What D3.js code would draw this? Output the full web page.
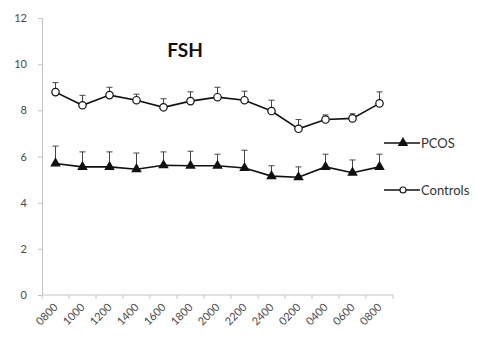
<!DOCTYPE html>
<html>
<head>
<meta charset="utf-8">
<script src="https://cdn.jsdelivr.net/npm/d3@7"></script>
<style>
  html, body { margin: 0; padding: 0; background: #fff; }
  svg { display: block; font-family: Lato, "Open Sans", sans-serif; }
</style>
</head>
<body>
<svg id="chart" width="477" height="341"></svg>
<script>
// Sampling times (24 h clock)
const times = ["0800","1000","1200","1400","1600","1800","2000","2200","2400","0200","0400","0600","0800"];
// Mean FSH per group
const pcos     = [5.70, 5.55, 5.55, 5.45, 5.62, 5.60, 5.60, 5.50, 5.15, 5.10, 5.55, 5.30, 5.55];
const controls = [8.79, 8.22, 8.66, 8.44, 8.13, 8.40, 8.57, 8.44, 7.97, 7.20, 7.60, 7.65, 8.30];
// Standard errors (drawn upward)
const pcosErr     = [0.75, 0.65, 0.65, 0.70, 0.58, 0.63, 0.50, 0.77, 0.45, 0.45, 0.55, 0.55, 0.55];
const controlsErr = [0.41, 0.43, 0.34, 0.26, 0.37, 0.40, 0.43, 0.39, 0.47, 0.40, 0.20, 0.20, 0.50];
const yTicks = [0, 2, 4, 6, 8, 10, 12];

const svg = d3.select("#chart");
const margin = { left: 42, right: 84, top: 18, bottom: 46 };
const W = 477, H = 341;

const x = d3.scaleBand()
  .domain(d3.range(times.length))
  .range([margin.left, W - margin.right]);
const y = d3.scaleLinear().domain([0, 12]).range([H - margin.bottom, margin.top]);

const axisColor = "#c4c4c4";
const textColor = "#4a4a4a";

// Y axis
const yAxis = svg.append("g")
  .attr("transform", `translate(${margin.left},0)`)
  .call(d3.axisLeft(y).tickValues(yTicks).tickSize(4).tickPadding(11));
yAxis.select(".domain").attr("stroke", axisColor);
yAxis.selectAll(".tick line").attr("stroke", axisColor);
yAxis.selectAll(".tick text")
  .attr("fill", textColor)
  .style("font-size", "11px")
  .style("font-family", "Lato, 'Open Sans', sans-serif");

// X axis with ticks between categories
const xg = svg.append("g").attr("transform", `translate(0,${y(0)})`);
xg.append("line")
  .attr("x1", margin.left).attr("x2", W - margin.right)
  .attr("stroke", axisColor);
const bounds = d3.range(times.length + 1).map(i => margin.left + i * x.step());
xg.selectAll("line.tk").data(bounds).join("line")
  .attr("class", "tk")
  .attr("x1", d => d).attr("x2", d => d)
  .attr("y1", 0).attr("y2", 4)
  .attr("stroke", axisColor);
xg.selectAll("text").data(times).join("text")
  .attr("transform", (d, i) => `translate(${x(i) + x.bandwidth() / 2 + 3},${13}) rotate(-45)`)
  .attr("text-anchor", "end")
  .attr("fill", textColor)
  .style("font-size", "11px")
  .text(d => d);

const cx = i => x(i) + x.bandwidth() / 2;

// Error bars
function errBars(vals, errs) {
  const g = svg.append("g").attr("stroke", "#444").attr("stroke-width", 1);
  vals.forEach((v, i) => {
    g.append("line").attr("x1", cx(i)).attr("x2", cx(i))
      .attr("y1", y(v)).attr("y2", y(v + errs[i]));
    g.append("line").attr("x1", cx(i) - 3).attr("x2", cx(i) + 3)
      .attr("y1", y(v + errs[i])).attr("y2", y(v + errs[i]));
  });
}
errBars(controls, controlsErr);
errBars(pcos, pcosErr);

const line = d3.line().x((d, i) => cx(i)).y(d => y(d));
svg.append("path").datum(controls).attr("d", line)
  .attr("fill", "none").attr("stroke", "#111").attr("stroke-width", 1.6);
svg.append("path").datum(pcos).attr("d", line)
  .attr("fill", "none").attr("stroke", "#111").attr("stroke-width", 1.6);

// Markers
const tri = d3.symbol().type(d3.symbolTriangle).size(48);
svg.append("g").selectAll("path").data(pcos).join("path")
  .attr("d", tri)
  .attr("transform", (d, i) => `translate(${cx(i)},${y(d)})`)
  .attr("fill", "#111");
svg.append("g").selectAll("circle").data(controls).join("circle")
  .attr("cx", (d, i) => cx(i)).attr("cy", d => y(d)).attr("r", 3.7)
  .attr("fill", "#fff").attr("stroke", "#111").attr("stroke-width", 1.2);

// Title
svg.append("text")
  .attr("x", 185).attr("y", 57)
  .attr("text-anchor", "middle")
  .attr("font-weight", "bold")
  .style("font-size", "19px")
  .attr("fill", "#111")
  .text("FSH");

// Legend
const legend = [
  { name: "PCOS", yv: 143, kind: "tri" },
  { name: "Controls", yv: 190, kind: "circle" }
];
legend.forEach(l => {
  svg.append("line").attr("x1", 384).attr("x2", 420)
    .attr("y1", l.yv).attr("y2", l.yv)
    .attr("stroke", "#111").attr("stroke-width", 1.4);
  if (l.kind === "tri") {
    svg.append("path").attr("d", tri).attr("transform", `translate(403,${l.yv})`).attr("fill", "#111");
  } else {
    svg.append("circle").attr("cx", 403).attr("cy", l.yv).attr("r", 3)
      .attr("fill", "#fff").attr("stroke", "#111").attr("stroke-width", 1.1);
  }
  svg.append("text").attr("x", 421).attr("y", l.yv + 5)
    .attr("fill", "#333").style("font-size", "13px").text(l.name);
});
</script>
</body>
</html>
